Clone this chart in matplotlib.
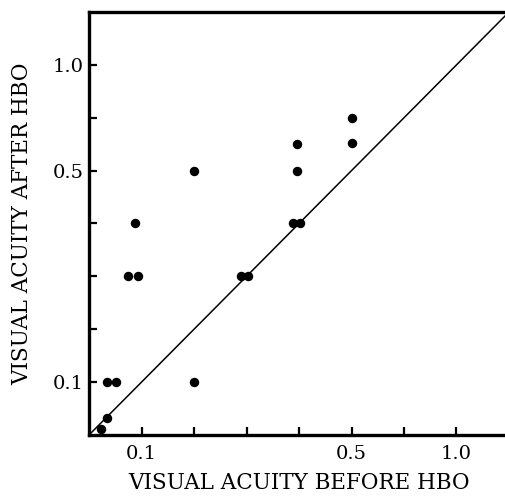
import numpy as np
import matplotlib
matplotlib.use('Agg')
import matplotlib.pyplot as plt

# visual acuity before / after HBO (decimal acuity)
acuity_before = [0.061, 0.067, 0.067, 0.076, 0.087, 0.097, 0.094, 0.2, 0.2,
                 0.29, 0.303, 0.389, 0.402, 0.396, 0.396, 0.5, 0.5]
acuity_after = [0.056, 0.066, 0.1, 0.1, 0.3, 0.3, 0.4, 0.5, 0.1,
                0.3, 0.3, 0.4, 0.4, 0.5, 0.6, 0.7, 0.605]

tick_values = [0.1, 0.2, 0.3, 0.4, 0.5, 0.7, 1.0]
tick_labels = ['0.1', '', '', '', '0.5', '', '1.0']

# acuity chart scale: the steps are equally spaced
scale_vals = np.array([0.05, 0.1, 0.2, 0.3, 0.4, 0.5, 0.7, 1.0, 1.5])
scale_pos = np.arange(-1, 8, dtype=float)


def fwd(v):
    return np.interp(v, scale_vals, scale_pos)


def inv(p):
    return np.interp(p, scale_pos, scale_vals)


plt.rcParams['font.family'] = 'DejaVu Serif'

fig = plt.figure(figsize=(5.06, 4.97), dpi=100)
ax = fig.add_axes([89 / 506, 62 / 497, 420 / 506, 423 / 497])
ax.set_xscale('function', functions=(fwd, inv))
ax.set_yscale('function', functions=(fwd, inv))
ax.set_xlim(0.05, 1.5)
ax.set_ylim(0.05, 1.5)

ax.plot([0.05, 1.5], [0.05, 1.5], color='black', lw=1.1)
ax.plot(acuity_before, acuity_after, 'o', color='black', ms=5.8, clip_on=False)

ax.set_xticks(tick_values)
ax.set_xticklabels(tick_labels)
ax.set_yticks(tick_values)
ax.set_yticklabels(tick_labels)
ax.minorticks_off()
ax.tick_params(direction='in', length=6, width=1.6, labelsize=14)
ax.tick_params(axis='x', pad=7)
ax.tick_params(axis='y', pad=4)

for side in ['left', 'bottom', 'top']:
    ax.spines[side].set_linewidth(2.4)
ax.spines['right'].set_visible(False)

ax.set_xlabel('VISUAL ACUITY BEFORE HBO', fontsize=15.5, labelpad=7)
ax.set_ylabel('VISUAL ACUITY AFTER HBO', fontsize=15.5, labelpad=14)

plt.savefig('out.png', dpi=100)
